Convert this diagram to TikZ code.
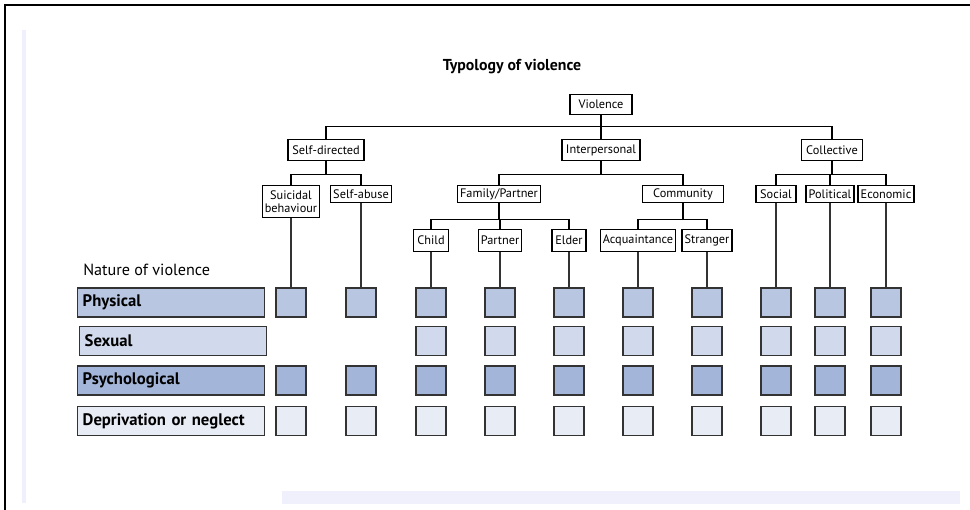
\documentclass[tikz,border=0pt]{standalone}
\usepackage{fontspec}
\setmainfont{PT Sans}
\definecolor{phys}{RGB}{184, 198, 226}
\definecolor{sexu}{RGB}{209, 218, 236}
\definecolor{psyc}{RGB}{163, 181, 216}
\definecolor{depr}{RGB}{232, 236, 245}
\definecolor{lavender}{RGB}{240, 240, 252}
\definecolor{edge}{RGB}{51, 51, 51}
\usetikzlibrary{positioning}

\begin{document}
\begin{tikzpicture}[
        x=0.02cm, y=-0.02cm,
        every node/.style={font=\fontsize{7}{7.5}\selectfont, align=center},
        tbox/.style={rectangle, draw=black, line width=0.7pt, fill=white, inner xsep=1.5pt, inner ysep=0pt, anchor=north},
        bar/.style={rectangle, draw=edge, line width=0.8pt, text width=3.54cm, inner xsep=0.1cm, minimum height=0.58cm, align=left, anchor=west, font=\fontsize{9.5}{10}\selectfont\bfseries},
        cell/.style={rectangle, draw=edge, line width=0.8pt, minimum width=0.6cm, minimum height=0.58cm, inner sep=0pt},
        link/.style={draw=black, line width=0.6pt},
        frame/.style={draw=black, line width=1.2pt}
    ]
        \useasboundingbox (0,0) rectangle (970,510);

        % Frame and faint strips
        \draw[frame] (5,510) -- (5,5) -- (970,5);
        \fill[lavender] (22,30) rectangle (26,503);
        \fill[lavender] (282,491) rectangle (960,504);

        % Titles
        \node[font=\fontsize{9}{10}\selectfont\bfseries] (title) at (512,67) {Typology of violence};
        \node[font=\fontsize{9.2}{10}\selectfont, anchor=west, inner xsep=0pt] (nature) at (83,270) {Nature of violence};

        % Tree nodes
        \node[tbox, minimum width=1.24cm, minimum height=0.40cm] (viol) at (601,94)  {Violence};
        \node[tbox, minimum width=1.52cm, minimum height=0.42cm] (self) at (326,139) {Self-directed};
        \node[tbox, minimum width=1.56cm, minimum height=0.42cm] (intp) at (601,139) {Interpersonal};
        \node[tbox, minimum width=1.22cm, minimum height=0.42cm] (coll) at (832,139) {Collective};

        \node[tbox, minimum width=1.14cm, minimum height=0.64cm] (suic) at (291,185) {Suicidal\\ behaviour};
        \node[tbox, minimum width=1.22cm, minimum height=0.34cm] (sabu) at (361,185) {Self-abuse};
        \node[tbox, minimum width=1.56cm, minimum height=0.34cm] (fami) at (499,185) {Family/Partner};
        \node[tbox, minimum width=1.62cm, minimum height=0.34cm] (comm) at (683,185) {Community};
        \node[tbox, minimum width=0.80cm, minimum height=0.34cm] (socl) at (776,185) {Social};
        \node[tbox, minimum width=0.96cm, minimum height=0.34cm] (polt) at (830,185) {Political};
        \node[tbox, minimum width=1.04cm, minimum height=0.34cm] (econ) at (886,185) {Economic};

        \node[tbox, minimum width=0.70cm, minimum height=0.44cm] (chld) at (431,229) {Child};
        \node[tbox, minimum width=0.84cm, minimum height=0.44cm] (prtn) at (500,229) {Partner};
        \node[tbox, minimum width=0.68cm, minimum height=0.44cm] (eldr) at (569,229) {Elder};
        \node[tbox, minimum width=1.50cm, minimum height=0.44cm] (acqu) at (638,229) {Acquaintance};
        \node[tbox, minimum width=0.98cm, minimum height=0.44cm] (strg) at (707,229) {Stranger};

        % Tree links
        \foreach \n in {self,intp,coll}
            \draw[link] (viol.south) -- ++(0,11) -| (\n.north);
        \foreach \n in {suic,sabu}
            \draw[link] (self.south) -- ++(0,13) -| (\n.north);
        \foreach \n in {fami,comm}
            \draw[link] (intp.south) -- ++(0,13) -| (\n.north);
        \foreach \n in {socl,polt,econ}
            \draw[link] (coll.south) -- ++(0,13) -| (\n.north);
        \foreach \n in {chld,prtn,eldr}
            \draw[link] (fami.south) -- ++(0,16) -| (\n.north);
        \foreach \n in {acqu,strg}
            \draw[link] (comm.south) -- ++(0,16) -| (\n.north);

        % Nature of violence rows
        \node[bar, fill=phys] (rphys) at (77,302.5) {Physical};
        \node[bar, fill=sexu] (rsexu) at (79,341)   {Sexual};
        \node[bar, fill=psyc] (rpsyc) at (77,380.5) {Psychological};
        \node[bar, fill=depr] (rdepr) at (77,421)   {Deprivation or neglect};

        % Grid of cells
        \foreach \x [count=\c] in {291,361,431,500,569,638,707,776,830,886} {
            \node[cell, fill=phys] (g\c-1) at (\x,302.5) {};
            \ifnum\c>2 \node[cell, fill=sexu] (g\c-2) at (\x,341) {}; \fi
            \node[cell, fill=psyc] (g\c-3) at (\x,380.5) {};
            \node[cell, fill=depr] (g\c-4) at (\x,421) {};
        }

        % Leaves down to the grid
        \foreach \n [count=\c] in {suic,sabu,chld,prtn,eldr,acqu,strg,socl,polt,econ}
            \draw[link, draw=edge] (\n.south) -- (g\c-1.north);
    \end{tikzpicture}
\end{document}
